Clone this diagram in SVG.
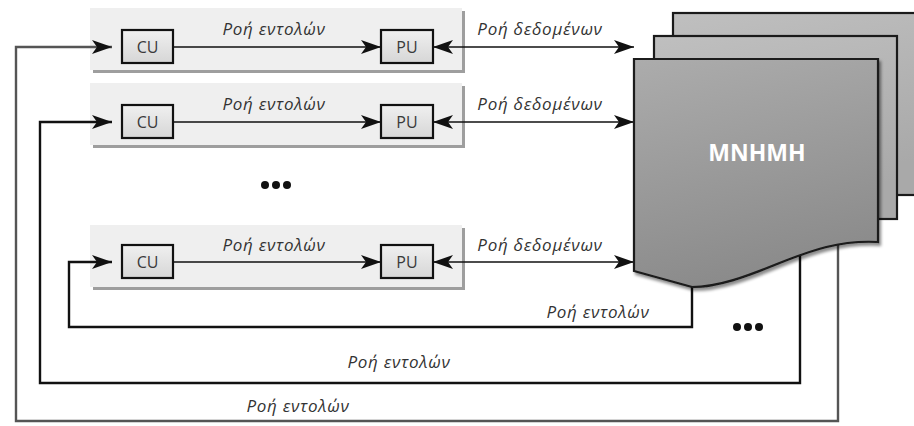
<svg xmlns="http://www.w3.org/2000/svg" width="914" height="426" viewBox="0 0 914 426">
  <style>
    .panel { fill: #efefef; }
    .panel-shadow { fill: #9e9e9e; }
    .unit { fill: url(#unitFill); stroke: #111; stroke-width: 2.2; }
    .unit-text { font-family: "Open Sans", "Liberation Sans", sans-serif; font-size: 16px; fill: #3a3a3a; text-anchor: middle; }
    .label { font-family: "Open Sans", "Liberation Sans", sans-serif; font-style: italic; font-size: 17px; letter-spacing: 0.7px; fill: #333; text-anchor: middle; }
    .flow { fill: none; stroke: #111; stroke-width: 1.6; }
    .loop { fill: none; stroke: #111; stroke-width: 2.4; }
    .loop-outer { fill: none; stroke: #555; stroke-width: 2.4; }
    .page { stroke: #1a1a1a; stroke-width: 2.2; }
    .dot { fill: #111; }
  </style>
  <defs>
    <linearGradient id="unitFill" x1="0" y1="0" x2="0" y2="1">
      <stop offset="0" stop-color="#f0f0f0"/>
      <stop offset="1" stop-color="#d6d6d6"/>
    </linearGradient>
    <linearGradient id="backPage" x1="0" y1="0" x2="0.3" y2="1">
      <stop offset="0" stop-color="#bfbfbf"/>
      <stop offset="1" stop-color="#a9a9a9"/>
    </linearGradient>
    <linearGradient id="frontPage" x1="0" y1="0" x2="0.25" y2="1">
      <stop offset="0" stop-color="#acacac"/>
      <stop offset="1" stop-color="#8b8b8b"/>
    </linearGradient>
    <filter id="pageShadow" x="-10%" y="-10%" width="130%" height="130%">
      <feDropShadow dx="2" dy="3" stdDeviation="1.8" flood-color="#000" flood-opacity="0.45"/>
    </filter>
    <marker id="arrow" markerUnits="userSpaceOnUse" markerWidth="20" markerHeight="14" refX="20" refY="7" orient="auto-start-reverse">
      <path d="M0,0 L20,7 L0,14 L5,7 Z" fill="#111"/>
    </marker>
  </defs>

  <!-- Processor panels -->
  <g id="panel-1">
    <rect class="panel-shadow" x="93" y="11" width="372" height="62"/>
    <rect class="panel" x="90" y="8" width="372" height="62"/>
  </g>
  <g id="panel-2">
    <rect class="panel-shadow" x="93" y="86" width="372" height="62"/>
    <rect class="panel" x="90" y="83" width="372" height="62"/>
  </g>
  <g id="panel-3">
    <rect class="panel-shadow" x="93" y="228" width="372" height="62"/>
    <rect class="panel" x="90" y="225" width="372" height="62"/>
  </g>

  <!-- Connectors -->
  <g id="connectors">
    <!-- instruction flow CU -> PU -->
    <line class="flow" x1="173" y1="47" x2="381" y2="47" marker-end="url(#arrow)"/>
    <line class="flow" x1="173" y1="122" x2="381" y2="122" marker-end="url(#arrow)"/>
    <line class="flow" x1="173" y1="262" x2="381" y2="262" marker-end="url(#arrow)"/>
    <!-- data flow PU <-> memory -->
    <line class="flow" x1="433" y1="47" x2="634" y2="47" marker-start="url(#arrow)" marker-end="url(#arrow)"/>
    <line class="flow" x1="433" y1="122" x2="634" y2="122" marker-start="url(#arrow)" marker-end="url(#arrow)"/>
    <line class="flow" x1="433" y1="262" x2="634" y2="262" marker-start="url(#arrow)" marker-end="url(#arrow)"/>
    <!-- instruction return loops memory -> CU -->
    <path class="loop-outer" d="M838,245 V421 H16 V47 H112" marker-end="url(#arrow)"/>
    <path class="loop" d="M800,245 V383 H40 V122 H112" marker-end="url(#arrow)"/>
    <path class="loop" d="M692,270 V327 H69 V262 H112" marker-end="url(#arrow)"/>
  </g>

  <!-- Control / processing units -->
  <g id="cu-1"><rect class="unit" x="122" y="30" width="51" height="33"/><text class="unit-text" x="147.5" y="52.5">CU</text></g>
  <g id="pu-1"><rect class="unit" x="381" y="30" width="52" height="33"/><text class="unit-text" x="407" y="52.5">PU</text></g>
  <g id="cu-2"><rect class="unit" x="122" y="105" width="51" height="33"/><text class="unit-text" x="147.5" y="127.5">CU</text></g>
  <g id="pu-2"><rect class="unit" x="381" y="105" width="52" height="33"/><text class="unit-text" x="407" y="127.5">PU</text></g>
  <g id="cu-3"><rect class="unit" x="122" y="245" width="51" height="33"/><text class="unit-text" x="147.5" y="267.5">CU</text></g>
  <g id="pu-3"><rect class="unit" x="381" y="245" width="52" height="33"/><text class="unit-text" x="407" y="267.5">PU</text></g>

  <!-- Flow labels -->
  <g id="labels">
    <text class="label" x="274" y="35">Ροή εντολών</text>
    <text class="label" x="274" y="110">Ροή εντολών</text>
    <text class="label" x="274" y="251">Ροή εντολών</text>
    <text class="label" x="540" y="35">Ροή δεδομένων</text>
    <text class="label" x="540" y="110">Ροή δεδομένων</text>
    <text class="label" x="540" y="251">Ροή δεδομένων</text>
    <text class="label" x="598" y="318">Ροή εντολών</text>
    <text class="label" x="399" y="368">Ροή εντολών</text>
    <text class="label" x="298" y="412">Ροή εντολών</text>
  </g>

  <!-- Memory stack -->
  <g id="memory">
    <rect class="page" x="673" y="13" width="260" height="182" fill="url(#backPage)" stroke="#555"/>
    <rect class="page" x="654" y="36" width="243" height="183" fill="url(#backPage)"/>
    <path class="page" filter="url(#pageShadow)" fill="url(#frontPage)"
          d="M634,59 H878 V242 C840,240 812,250 777,264 C745,277 718,287 692,287 L634,271 Z"/>
    <text x="757" y="161" font-family="'Open Sans', 'Liberation Sans', sans-serif" font-weight="bold" font-size="23" fill="#fff" text-anchor="middle">MNHMH</text>
  </g>

  <!-- Ellipses -->
  <g id="ellipsis-1">
    <circle class="dot" cx="265" cy="185" r="4"/>
    <circle class="dot" cx="276" cy="185" r="4"/>
    <circle class="dot" cx="287" cy="185" r="4"/>
  </g>
  <g id="ellipsis-2">
    <circle class="dot" cx="737" cy="327" r="4"/>
    <circle class="dot" cx="748" cy="327" r="4"/>
    <circle class="dot" cx="759" cy="327" r="4"/>
  </g>
</svg>
